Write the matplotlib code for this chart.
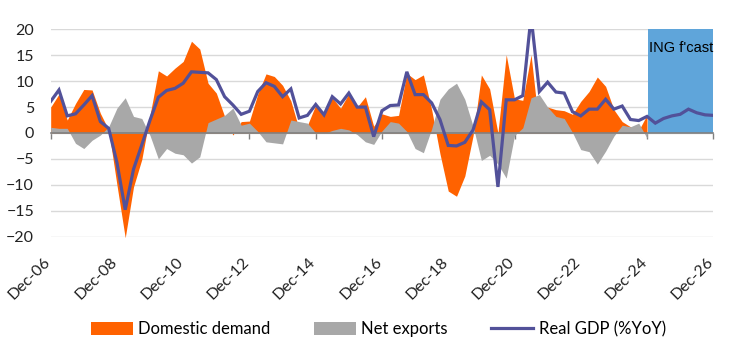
import matplotlib
matplotlib.use("Agg")
import matplotlib.pyplot as plt
import matplotlib.transforms as mtransforms
import numpy as np

# quarterly, Dec-06 .. Dec-26 (index 0 = Dec-06)
gdp = [6.1, 8.3, 3.3, 3.7, 5.4, 7.2, 2.2, 0.9, -5.7, -14.8,
       -7.0, -2.3, 2.5, 6.9, 8.2, 8.6, 9.6, 11.8, 11.7, 11.6,
       10.3, 7.0, 5.4, 3.6, 4.2, 8.0, 9.7, 9.0, 7.0, 8.5,
       2.9, 3.4, 5.5, 3.5, 7.0, 5.6, 7.7, 5.0, 5.0, -0.7,
       4.3, 5.3, 5.4, 11.8, 7.4, 7.4, 5.8, 2.6, -2.4, -2.5,
       -1.8, 0.6, 6.0, 4.5, -10.4, 6.4, 6.4, 7.2, 22.5, 8.0,
       9.8, 7.9, 7.7, 4.1, 3.3, 4.6, 4.6, 6.5, 4.6, 5.2,
       2.6, 2.4, 3.2, 1.9, 2.8, 3.3, 3.6, 4.6, 3.9, 3.5,
       3.4]

dom_demand = [5.0, 7.5, 2.5, 5.7, 8.4, 8.3, 3.8, 0.6, -10.0, -20.2,
              -10.4, -5.1, 3.5, 12.0, 11.0, 12.5, 13.8, 17.7, 16.2, 9.6,
              7.7, 3.2, -0.4, 2.2, 2.3, 7.5, 11.4, 10.9, 9.2, 6.2,
              0.7, 1.5, 5.4, 3.8, 6.8, 4.8, 7.6, 5.0, 7.0, 1.3,
              3.7, 3.2, 3.4, 11.5, 10.3, 11.2, 4.5, -4.0, -11.2, -12.2,
              -8.3, -0.5, 11.2, 8.5, 0.0, 15.1, 6.6, 6.3, 15.1, 0.6,
              5.0, 4.5, 4.3, 3.6, 6.1, 8.0, 10.8, 9.0, 4.5, 2.2,
              1.2, 0.5, 3.5]

net_exports = [1.1, 0.9, 0.9, -2.0, -3.0, -1.4, -0.4, 1.2, 4.8, 6.8,
               3.2, 2.8, -0.5, -5.0, -3.0, -3.9, -4.2, -5.8, -4.6, 2.0,
               2.7, 3.4, 4.8, 1.5, 1.9, 0.3, -1.7, -1.9, -2.1, 2.5,
               2.2, 1.9, 0.0, -0.1, 0.5, 0.9, 0.6, -0.3, -1.7, -2.2,
               0.4, 2.2, 1.9, 0.3, -3.0, -3.8, 0.8, 6.5, 8.5, 9.6,
               6.5, 1.3, -5.3, -4.3, -6.0, -8.7, -0.5, 1.0, 6.8, 7.4,
               5.0, 3.2, 2.8, 0.1, -3.2, -3.6, -6.0, -3.5, -0.6, 1.5,
               1.2, 1.9, -1.0]

tick_labels = ["Dec-06", "Dec-08", "Dec-10", "Dec-12", "Dec-14", "Dec-16",
               "Dec-18", "Dec-20", "Dec-22", "Dec-24", "Dec-26"]
fcast_start = 72.15   # forecast shading starts just after Dec-24
fcast_top = 20

orange = "#FF6200"
grey = "#A8A8A8"
purple = "#525199"
blue = "#5FA5DA"

plt.rcParams["font.family"] = ["Lato", "DejaVu Sans"]

fig = plt.figure(figsize=(7.42, 3.53), dpi=100)
ax = fig.add_axes([0.0683, 0.3295, 0.893, 0.5875])

x_hist = np.arange(len(dom_demand))
x_all = np.arange(len(gdp))

dd = ax.fill_between(x_hist, 0, dom_demand, color=orange, lw=0, zorder=2)
nx = ax.fill_between(x_hist, 0, net_exports, color=grey, lw=0, zorder=3)
ax.fill_between([fcast_start, x_all[-1]], 0, fcast_top, color=blue, lw=0, zorder=4)
line, = ax.plot(x_all, gdp, color=purple, lw=2.3, zorder=5, solid_joinstyle="miter")

ax.text(fcast_start + 0.1, 16.4, "ING f'cast", fontsize=10.5, va="center", ha="left",
        family=["Liberation Sans"], zorder=6)

ax.set_xlim(0, len(gdp) - 1)
ax.set_ylim(-20, 20)
ax.set_yticks(range(-20, 25, 5))
ax.grid(axis="y", color="#D9D9D9", lw=1)
ax.set_axisbelow(True)
for s in ["left", "right", "top"]:
    ax.spines[s].set_visible(False)
ax.spines["bottom"].set_position(("data", 0))
ax.spines["bottom"].set_color("#808080")
ax.spines["bottom"].set_linewidth(1.2)
ax.spines["bottom"].set_zorder(4.5)

ticks = list(range(0, len(gdp), 8))
ax.set_xticks(ticks)
ax.set_xticklabels([])
ax.tick_params(axis="x", direction="out", length=4.5, width=1, color="#808080")
ax.tick_params(axis="y", length=0, pad=12, labelsize=11.5, labelcolor="#222222")

trans = mtransforms.blended_transform_factory(ax.transData, ax.transAxes)
trans = trans + mtransforms.ScaledTranslation(-21 / 100, 0, fig.dpi_scale_trans)
for t, lab in zip(ticks, tick_labels):
    ax.text(t, -0.2, lab, transform=trans, rotation=45, ha="center", va="center",
            rotation_mode="anchor", fontsize=11.5, color="#222222")

fig.legend([dd, nx, line], ["Domestic demand", "Net exports", "Real GDP (%YoY)"],
           loc="center", bbox_to_anchor=(0.51, 0.068), ncol=3, frameon=False,
           handlelength=2.5, handleheight=0.8, columnspacing=2.6, handletextpad=0.35,
           fontsize=12)

fig.savefig("out.png", dpi=100)
